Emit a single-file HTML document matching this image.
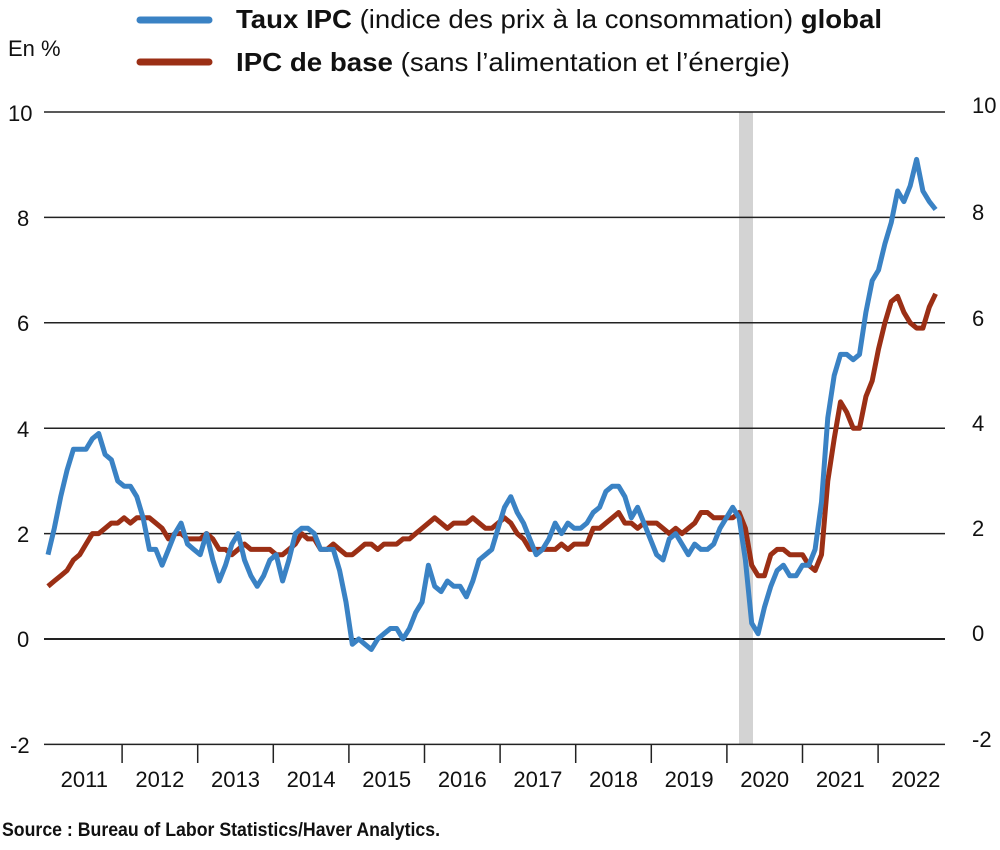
<!DOCTYPE html>
<html><head><meta charset="utf-8"><style>
body{margin:0;background:#fff;}
svg text{font-family:"Liberation Sans Narrow","Liberation Sans",sans-serif;fill:#111;}
</style></head><body>
<svg id="s" width="1000" height="845" viewBox="0 0 1000 845" xmlns="http://www.w3.org/2000/svg">
<rect x="739" y="112" width="14" height="632" fill="#d3d3d3"/>
<g stroke="#222" stroke-width="1.5">
<line x1="44" y1="112" x2="945" y2="112"/>
<line x1="44" y1="217.4" x2="945" y2="217.4"/>
<line x1="44" y1="322.8" x2="945" y2="322.8"/>
<line x1="44" y1="428.2" x2="945" y2="428.2"/>
<line x1="44" y1="533.6" x2="945" y2="533.6"/>
<line x1="44" y1="639" x2="945" y2="639" stroke-width="2"/>
<line x1="44" y1="744.4" x2="945" y2="744.4"/>
</g>
<g id="ticks" stroke="#222" stroke-width="1.5"></g>
<g font-size="22">
<text x="8" y="121">10</text><text x="17" y="226">8</text><text x="17" y="331">6</text><text x="17" y="437">4</text><text x="17" y="542">2</text><text x="17" y="647">0</text><text x="10" y="753">-2</text>
<text x="972" y="113">10</text><text x="972" y="220">8</text><text x="972" y="326">6</text><text x="972" y="431">4</text><text x="972" y="536">2</text><text x="972" y="641">0</text><text x="972" y="747">-2</text>
<text x="8" y="56">En %</text>
</g>
<g id="years" font-size="22" text-anchor="middle"></g>
<text x="2" y="836" font-size="19" font-weight="bold" textLength="438" lengthAdjust="spacingAndGlyphs">Source : Bureau of Labor Statistics/Haver Analytics.</text>
<line x1="140" y1="20" x2="209" y2="20" stroke="#3a82c4" stroke-width="7" stroke-linecap="round"/>
<line x1="140" y1="62" x2="209" y2="62" stroke="#9b2f15" stroke-width="7" stroke-linecap="round"/>
<text x="236" y="28" font-size="26" textLength="646" lengthAdjust="spacingAndGlyphs"><tspan font-weight="bold">Taux IPC</tspan> (indice des prix à la consommation) <tspan font-weight="bold">global</tspan></text>
<text x="236" y="71" font-size="26" textLength="554" lengthAdjust="spacingAndGlyphs"><tspan font-weight="bold">IPC de base</tspan> (sans l’alimentation et l’énergie)</text>
<polyline id="core" fill="none" stroke="#9b2f15" stroke-width="5" stroke-linejoin="round"/>
<polyline id="cpi" fill="none" stroke="#3a82c4" stroke-width="5" stroke-linejoin="round"/>
</svg>
<script>
var cpi=[1.6,2.1,2.7,3.2,3.6,3.6,3.6,3.8,3.9,3.5,3.4,3.0,
2.9,2.9,2.7,2.3,1.7,1.7,1.4,1.7,2.0,2.2,1.8,1.7,
1.6,2.0,1.5,1.1,1.4,1.8,2.0,1.5,1.2,1.0,1.2,1.5,
1.6,1.1,1.5,2.0,2.1,2.1,2.0,1.7,1.7,1.7,1.3,0.7,
-0.1,0.0,-0.1,-0.2,0.0,0.1,0.2,0.2,0.0,0.2,0.5,0.7,
1.4,1.0,0.9,1.1,1.0,1.0,0.8,1.1,1.5,1.6,1.7,2.1,
2.5,2.7,2.4,2.2,1.9,1.6,1.7,1.9,2.2,2.0,2.2,2.1,
2.1,2.2,2.4,2.5,2.8,2.9,2.9,2.7,2.3,2.5,2.2,1.9,
1.6,1.5,1.9,2.0,1.8,1.6,1.8,1.7,1.7,1.8,2.1,2.3,
2.5,2.3,1.5,0.3,0.1,0.6,1.0,1.3,1.4,1.2,1.2,1.4,
1.4,1.7,2.6,4.2,5.0,5.4,5.4,5.3,5.4,6.2,6.8,7.0,
7.5,7.9,8.5,8.3,8.6,9.1,8.5,8.3,8.15];
var core=[1.0,1.1,1.2,1.3,1.5,1.6,1.8,2.0,2.0,2.1,2.2,2.2,
2.3,2.2,2.3,2.3,2.3,2.2,2.1,1.9,2.0,2.0,1.9,1.9,
1.9,2.0,1.9,1.7,1.7,1.6,1.7,1.8,1.7,1.7,1.7,1.7,
1.6,1.6,1.7,1.8,2.0,1.9,1.9,1.7,1.7,1.8,1.7,1.6,
1.6,1.7,1.8,1.8,1.7,1.8,1.8,1.8,1.9,1.9,2.0,2.1,
2.2,2.3,2.2,2.1,2.2,2.2,2.2,2.3,2.2,2.1,2.1,2.2,
2.3,2.2,2.0,1.9,1.7,1.7,1.7,1.7,1.7,1.8,1.7,1.8,
1.8,1.8,2.1,2.1,2.2,2.3,2.4,2.2,2.2,2.1,2.2,2.2,
2.2,2.1,2.0,2.1,2.0,2.1,2.2,2.4,2.4,2.3,2.3,2.3,
2.3,2.4,2.1,1.4,1.2,1.2,1.6,1.7,1.7,1.6,1.6,1.6,
1.4,1.3,1.6,3.0,3.8,4.5,4.3,4.0,4.0,4.6,4.9,5.5,
6.0,6.4,6.5,6.2,6.0,5.9,5.9,6.3,6.55];
function pts(a){return a.map(function(v,i){return (48+i*6.34).toFixed(1)+","+(639-v*52.7).toFixed(1)}).join(" ")}
document.getElementById("cpi").setAttribute("points",pts(cpi));
document.getElementById("core").setAttribute("points",pts(core));
var ns="http://www.w3.org/2000/svg";
for(var k=0;k<12;k++){var x0=46.5+k*75.6;
 if(k>0){var l=document.createElementNS(ns,"line");l.setAttribute("x1",x0);l.setAttribute("x2",x0);l.setAttribute("y1",744);l.setAttribute("y2",763);document.getElementById("ticks").appendChild(l);}
 var tx=document.createElementNS(ns,"text");tx.setAttribute("x",x0+37.8);tx.setAttribute("y",787);tx.textContent=2011+k;document.getElementById("years").appendChild(tx);}
</script>
</body></html>
